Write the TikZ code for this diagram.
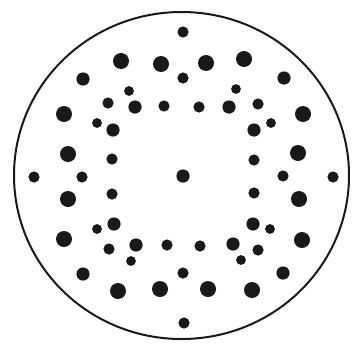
\documentclass[tikz,border=0pt]{standalone}
\begin{document}
\begin{tikzpicture}[x=1pt,y=-1pt,
  ink/.style={fill=black!90}]
\useasboundingbox (0,0) rectangle (352,343);
% outer circle
\draw[line width=2pt, black!90] (181.5,175.5) ellipse [x radius=167.5, y radius=163.5];
% large dots
\foreach \x/\y in {121/61,161/64,206/63,244/59,64/114,303/114,68/154,298/153,68/199,299/199,64/239,302/240,118/291,160/289,208/289,252/290}
  \fill[ink] (\x,\y) circle (8);
% medium-large dots
\foreach \x/\y in {83/79,284/78,83/274,283/273,183/176,135/107,229/107,113/130,254/130,114/224,253/224,136/245,233/244}
  \fill[ink] (\x,\y) circle (6.6);
% medium dots
\foreach \x/\y in {183/32,184/323,34/177,333/177,183/78,183/273,82/177,283/176,108/103,164/106,199/107,258/104,112/159,254/160,112/194,254/193,109/249,167/245,200/246,258/250}
  \fill[ink] (\x,\y) circle (5.6);
% small dots
\foreach \x/\y in {129/91,236/89,97/123,271/123,97/229,270/229,131/261,241/260}
  \fill[ink] (\x,\y) circle (4.9);
\end{tikzpicture}
\end{document}
